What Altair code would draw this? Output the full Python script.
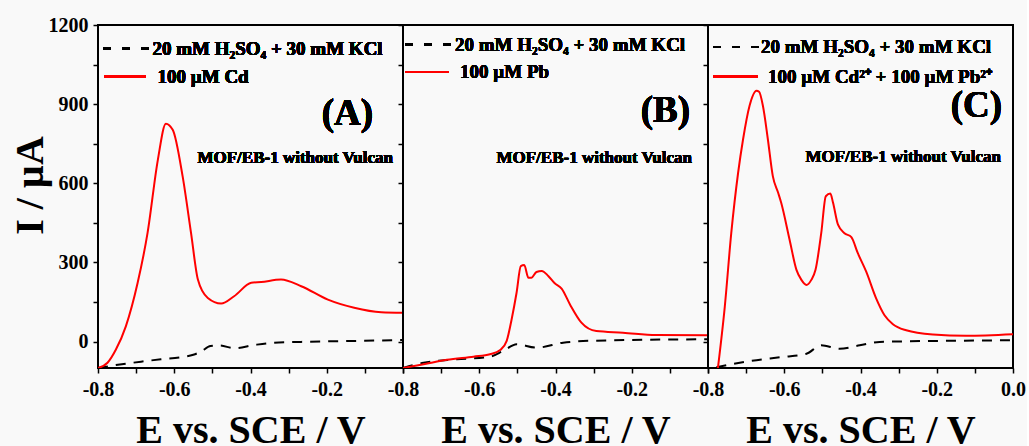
import altair as alt
import pandas as pd

# ---------------- data ----------------
# Panel A : 100 uM Cd
a_red_E = [-0.800, -0.775, -0.753, -0.727, -0.696, -0.670, -0.643, -0.622, -0.604, -0.578, -0.556,
           -0.538, -0.512, -0.477, -0.443, -0.398, -0.372, -0.320, -0.267, -0.197, -0.128, -0.057, 0.0]
a_red_I = [-100, -80, -30, 58, 223, 412, 689, 826, 803, 626, 412,
           235, 165, 144, 172, 223, 226, 235, 210, 159, 128, 111, 109]
a_blk_E = [-0.800, -0.753, -0.687, -0.635, -0.585, -0.550, -0.530, -0.505, -0.480, -0.443, -0.391,
           -0.338, -0.267, -0.150, 0.0]
a_blk_I = [-100, -89, -76, -67, -60, -50, -38, -17, -15, -25, -13, -4, -1, 2, 6]

# Panel B : 100 uM Pb
b_red_E = [-0.800, -0.746, -0.685, -0.615, -0.572, -0.545, -0.528, -0.515, -0.502, -0.491, -0.482,
           -0.471, -0.463, -0.450, -0.436, -0.419, -0.402, -0.384, -0.362, -0.332, -0.293, -0.223,
           -0.136, 0.0]
b_red_I = [-100, -86, -69, -57, -48, -32, 3, 85, 186, 286, 290,
           242, 242, 264, 268, 249, 221, 201, 141, 72, 40, 34, 25, 24]
b_blk_E = [-0.800, -0.746, -0.659, -0.572, -0.537, -0.502, -0.450, -0.380, -0.310, 0.0]
b_blk_I = [-100, -80, -67, -57, -35, -10, -23, -4, 3, 9]

# Panel C : 100 uM Cd2+ + 100 uM Pb2+
c_red_E = [-0.774, -0.756, -0.739, -0.721, -0.708, -0.691, -0.673, -0.666, -0.656, -0.643, -0.630,
           -0.616, -0.608, -0.586, -0.568, -0.555, -0.542, -0.529, -0.518, -0.503, -0.491, -0.479,
           -0.472, -0.459, -0.442, -0.424, -0.407, -0.385, -0.359, -0.337, -0.315, -0.280, -0.210,
           -0.123, 0.0]
c_red_I = [-100, 132, 411, 640, 767, 894, 951, 947, 894, 767, 627,
           564, 526, 386, 272, 234, 215, 234, 272, 411, 551, 561,
           526, 443, 411, 396, 335, 265, 164, 100, 66, 43, 27, 22, 28]
c_blk_E = [-0.778, -0.691, -0.603, -0.542, -0.503, -0.455, -0.402, -0.350, 0.0]
c_blk_I = [-97, -74, -58, -46, -14, -27, -14, -1, 5]

x_ticks = [-0.8, -0.7, -0.6, -0.5, -0.4, -0.3, -0.2, -0.1, 0.0]
y_ticks = [0, 150, 300, 450, 600, 750, 900, 1050, 1200]

legend_base = "20 mM H\u2082SO\u2084 + 30 mM KCl"
red_labels = ["100 \u00b5M Cd", "100 \u00b5M Pb", "100 \u00b5M Cd\u00b2\u207a + 100 \u00b5M Pb\u00b2\u207a"]
letters = ["(A)", "(B)", "(C)"]
note = "MOF/EB-1 without Vulcan"

FONT = "Liberation Serif"
W, H = 305, 343


def panel(redE, redI, blkE, blkI, letter, red_label, first, last, lay):
    xs = alt.Scale(domain=[-0.8, 0.0], nice=False, zero=False)
    ys = alt.Scale(domain=[-100, 1200], nice=False, zero=False)
    if last:
        lab = "round(datum.value*10) % 2 == 0 ? (datum.value < -0.01 ? '-' + format(abs(datum.value), '.1f') : format(abs(datum.value), '.1f')) : ''"
    else:
        lab = "(round(datum.value*10) % 2 == 0 && datum.value < -0.05) ? '-' + format(abs(datum.value), '.1f') : ''"
    xaxis = alt.Axis(values=x_ticks, labelExpr=lab, domain=False, grid=False,
                     tickSize=5, tickWidth=1.5, tickColor="black",
                     labelFont=FONT, labelFontSize=20, labelFontWeight="bold", labelColor="black",
                     labelPadding=6, labelFlush=False,
                     title="E vs. SCE / V", titleFont=FONT, titleFontSize=40, titleFontWeight="bold",
                     titleColor="black", titleX=W / 2, titleY=74, titleAlign="center",
                     titleBaseline="alphabetic")
    if first:
        yaxis = alt.Axis(values=y_ticks, labelExpr="datum.value % 300 == 0 ? format(datum.value, 'd') : ''",
                         domain=False, grid=False, tickSize=5, tickWidth=1.5, tickColor="black",
                         labelFont=FONT, labelFontSize=20, labelFontWeight="bold", labelColor="black",
                         labelPadding=5,
                         title="I / \u00b5A", titleFont=FONT, titleFontSize=40, titleFontWeight="bold",
                         titleColor="black", titleX=-68, titleY=160, titleAngle=270,
                         titleAlign="center", titleBaseline="middle")
    else:
        yaxis = alt.Axis(values=y_ticks, labels=False, title=None, domain=False, grid=False,
                         tickSize=5, tickWidth=1.5, tickColor="black")

    dred = pd.DataFrame({"E": redE, "I": redI})
    dblk = pd.DataFrame({"E": blkE, "I": blkI})
    blk = alt.Chart(dblk).mark_line(color="black", strokeWidth=2, strokeDash=[10, 8],
                                    interpolate="monotone", clip=True).encode(
        x=alt.X("E:Q", scale=xs, axis=xaxis),
        y=alt.Y("I:Q", scale=ys, axis=yaxis))
    red = alt.Chart(dred).mark_line(color="#ff0000", strokeWidth=2, interpolate="monotone",
                                    clip=True).encode(
        x=alt.X("E:Q", scale=xs, axis=xaxis),
        y=alt.Y("I:Q", scale=ys, axis=yaxis))

    (r1, r2, t1x, t2x, d0, d1, l0, l1, lx, ly, nx, ny) = lay
    leg_dash = alt.Chart(dblk).mark_rule(color="black", strokeWidth=2, strokeDash=[8, 11]).encode(
        x=alt.value(d0), x2=alt.value(d1), y=alt.value(r1))
    leg_red = alt.Chart(dblk).mark_rule(color="#ff0000", strokeWidth=2).encode(
        x=alt.value(l0), x2=alt.value(l1), y=alt.value(r2))
    tkw = dict(font=FONT, fontWeight="bold", color="black", baseline="alphabetic")
    t1 = alt.Chart(dblk).mark_text(text=legend_base, align="left", fontSize=19, **tkw).encode(
        x=alt.value(t1x), y=alt.value(r1 + 6))
    t2 = alt.Chart(dblk).mark_text(text=red_label, align="left", fontSize=19, **tkw).encode(
        x=alt.value(t2x), y=alt.value(r2 + 6))
    tl = alt.Chart(dblk).mark_text(text=letter, align="right", fontSize=37, **tkw).encode(
        x=alt.value(lx), y=alt.value(ly))
    tn = alt.Chart(dblk).mark_text(text=note, align="right", fontSize=17, **tkw).encode(
        x=alt.value(nx), y=alt.value(ny))
    return alt.layer(blk, red, leg_dash, leg_red, t1, t2, tl, tn).properties(width=W, height=H)


pa = panel(a_red_E, a_red_I, a_blk_E, a_blk_I, letters[0], red_labels[0], True, False,
           (23.5, 51.5, 54.5, 59.5, 5, 53, 6, 48, 275, 100, 295, 138))
pb = panel(b_red_E, b_red_I, b_blk_E, b_blk_I, letters[1], red_labels[1], False, False,
           (19.5, 47, 52, 57, 2, 50, 2, 46, 287, 97, 289, 138))
pc = panel(c_red_E, c_red_I, c_blk_E, c_blk_I, letters[2], red_labels[2], False, True,
           (22, 51.5, 53, 60, 5, 51, 5, 50, 294, 92, 293, 137))

chart = alt.hconcat(pa, pb, pc, spacing=0, bounds="flush").properties(
    padding={"left": 9, "top": 14, "right": 0, "bottom": 0},
    background="#f9f9f9",
).configure_view(stroke="black", strokeWidth=2, fill="#f9f9f9")

chart.save("out.html", embed_options={"renderer": "svg", "actions": False})
